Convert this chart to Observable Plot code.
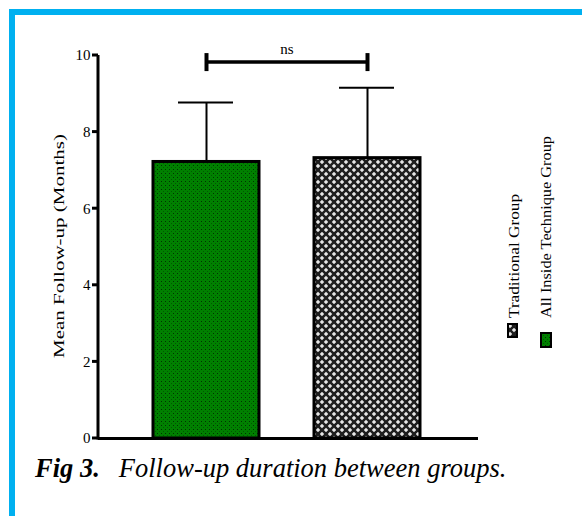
<!DOCTYPE html>
<html><head><meta charset="utf-8">
<script src="https://cdn.jsdelivr.net/npm/d3@7"></script>
<script src="https://cdn.jsdelivr.net/npm/@observablehq/plot@0.6"></script>
<style>
html,body{margin:0;padding:0;background:#fff;width:582px;height:516px;overflow:hidden;}
#frame{position:absolute;left:9px;top:9px;right:0;bottom:0;border-top:6px solid #00b0f0;border-left:6px solid #00b0f0;pointer-events:none;}
#chart{position:absolute;left:0;top:0;}
#caption{position:absolute;left:35px;top:453px;font-family:"Liberation Serif","Times New Roman",serif;font-size:26.5px;font-style:italic;white-space:nowrap;color:#000;}
#caption b{margin-right:19px;}
#chart svg text{font-family:"Liberation Serif","Times New Roman",serif;}
</style></head><body>
<div id="chart"></div>
<div id="frame"></div>
<div id="caption"><b>Fig 3.</b>Follow-up duration between groups.</div>
<script>
// ---- data ----
const groups = ["All Inside Technique Group", "Traditional Group"];
const means = [7.22, 7.32];
const uppers = [8.77, 9.16];          // mean + SD
const yTicks = [0, 2, 4, 6, 8, 10];
const sigLabel = "ns";
const sigY = 9.83;
const sigTickLo = 9.58, sigTickHi = 10.05;
const patterns = ["url(#pat-green)", "url(#pat-check)"];

const data = groups.map((g, i) => ({group: g, mean: means[i], upper: uppers[i], fill: patterns[i]}));

const W = 582, H = 455;
const mL = 98, mR = 104, mT = 55, mB = 17;
const pIn = 0.342, pOut = 0.351, align = 0.486;
const step = (W - mL - mR) / (groups.length - pIn + 2 * pOut);
const bw = step * (1 - pIn);

const font = '"Liberation Serif","Times New Roman",serif';

const plot = Plot.plot({
  width: W, height: H,
  marginLeft: mL, marginRight: mR, marginTop: mT, marginBottom: mB,
  style: {fontFamily: font, fontSize: "15px", color: "#000", background: "transparent"},
  x: {type: "band", domain: groups, paddingInner: pIn, paddingOuter: pOut, align, axis: null},
  y: {domain: [0, 10], ticks: yTicks, tickSize: 0, tickPadding: 8, label: null, tickFormat: d => String(d)},
  marks: [
    ...data.map(d => Plot.barY([d], {x: "group", y: "mean", fill: d.fill, stroke: "black", strokeWidth: 3})),
    Plot.ruleX(data, {x: "group", y1: "mean", y2: "upper", stroke: "black", strokeWidth: 2}),
    Plot.tickY(data, {x: "group", y: "upper", stroke: "black", strokeWidth: 2, insetLeft: 25, insetRight: 26}),
    Plot.ruleY([0], {stroke: "black", strokeWidth: 3}),
    Plot.ruleY([sigLabel], {x1: () => groups[0], x2: () => groups[1], y: () => sigY, stroke: "black", strokeWidth: 3.5, insetLeft: bw / 2, insetRight: bw / 2}),
    Plot.ruleX(groups, {x: d => d, y1: () => sigTickLo, y2: () => sigTickHi, stroke: "black", strokeWidth: 4}),
    Plot.text([sigLabel], {x: () => groups[0], y: () => sigY, text: d => d, dx: step / 2, dy: -13, fontSize: 15, fill: "black"})
  ]
});
document.getElementById("chart").appendChild(plot);

const svg = d3.select(plot);
const ys = plot.scale("y");
const yPos = v => ys.apply(v);

// y axis line and thick outward ticks, positioned through Plot's y scale
const axisG = svg.append("g").attr("stroke", "#000").attr("stroke-width", 3).attr("fill", "none");
axisG.append("line").attr("x1", mL).attr("x2", mL).attr("y1", yPos(0) + 1.5).attr("y2", yPos(10));
yTicks.forEach(t => {
  axisG.append("line").attr("x1", mL - 6).attr("x2", mL).attr("y1", yPos(t)).attr("y2", yPos(t));
});

const defs = svg.insert("defs", ":first-child");
// green dotted pattern
const pg = defs.append("pattern").attr("id", "pat-green").attr("patternUnits", "userSpaceOnUse").attr("width", 4).attr("height", 4);
pg.append("rect").attr("width", 4).attr("height", 4).attr("fill", "#008000");
pg.append("rect").attr("x", 1).attr("y", 1).attr("width", 1).attr("height", 1).attr("fill", "#003300");
pg.append("rect").attr("x", 3).attr("y", 3).attr("width", 1).attr("height", 1).attr("fill", "#005a00");
// checker diamond pattern
const pc = defs.append("pattern").attr("id", "pat-check").attr("patternUnits", "userSpaceOnUse").attr("width", 8).attr("height", 8);
pc.append("rect").attr("width", 8).attr("height", 8).attr("fill", "#1e1e1e");
pc.append("path").attr("d", "M2,-0.2L4.2,2L2,4.2L-0.2,2Z M6,3.8L8.2,6L6,8.2L3.8,6Z").attr("fill", "#e6e6e6");

// y-axis title
svg.append("text")
  .attr("transform", "translate(64,246) rotate(-90)")
  .attr("text-anchor", "middle")
  .attr("font-family", font).attr("font-size", 15.5)
  .attr("textLength", 224).attr("lengthAdjust", "spacingAndGlyphs")
  .text("Mean Follow-up (Months)");

// legend (rotated), order as in reference: Traditional then All Inside
const legend = [
  {label: groups[1], fill: patterns[1], x: 519, len: 124, sx: 508, sy: 324, sw: 9, sh: 13},
  {label: groups[0], fill: patterns[0], x: 551, len: 182, sx: 541, sy: 333, sw: 10, sh: 14}
];
legend.forEach(l => {
  svg.append("rect").attr("x", l.sx).attr("y", l.sy).attr("width", l.sw).attr("height", l.sh)
    .attr("fill", l.fill).attr("stroke", "black").attr("stroke-width", 2);
  svg.append("text")
    .attr("transform", `translate(${l.x},318) rotate(-90)`)
    .attr("text-anchor", "start")
    .attr("font-family", font).attr("font-size", 15)
    .attr("textLength", l.len).attr("lengthAdjust", "spacingAndGlyphs")
    .text(l.label);
});
</script>
</body></html>
